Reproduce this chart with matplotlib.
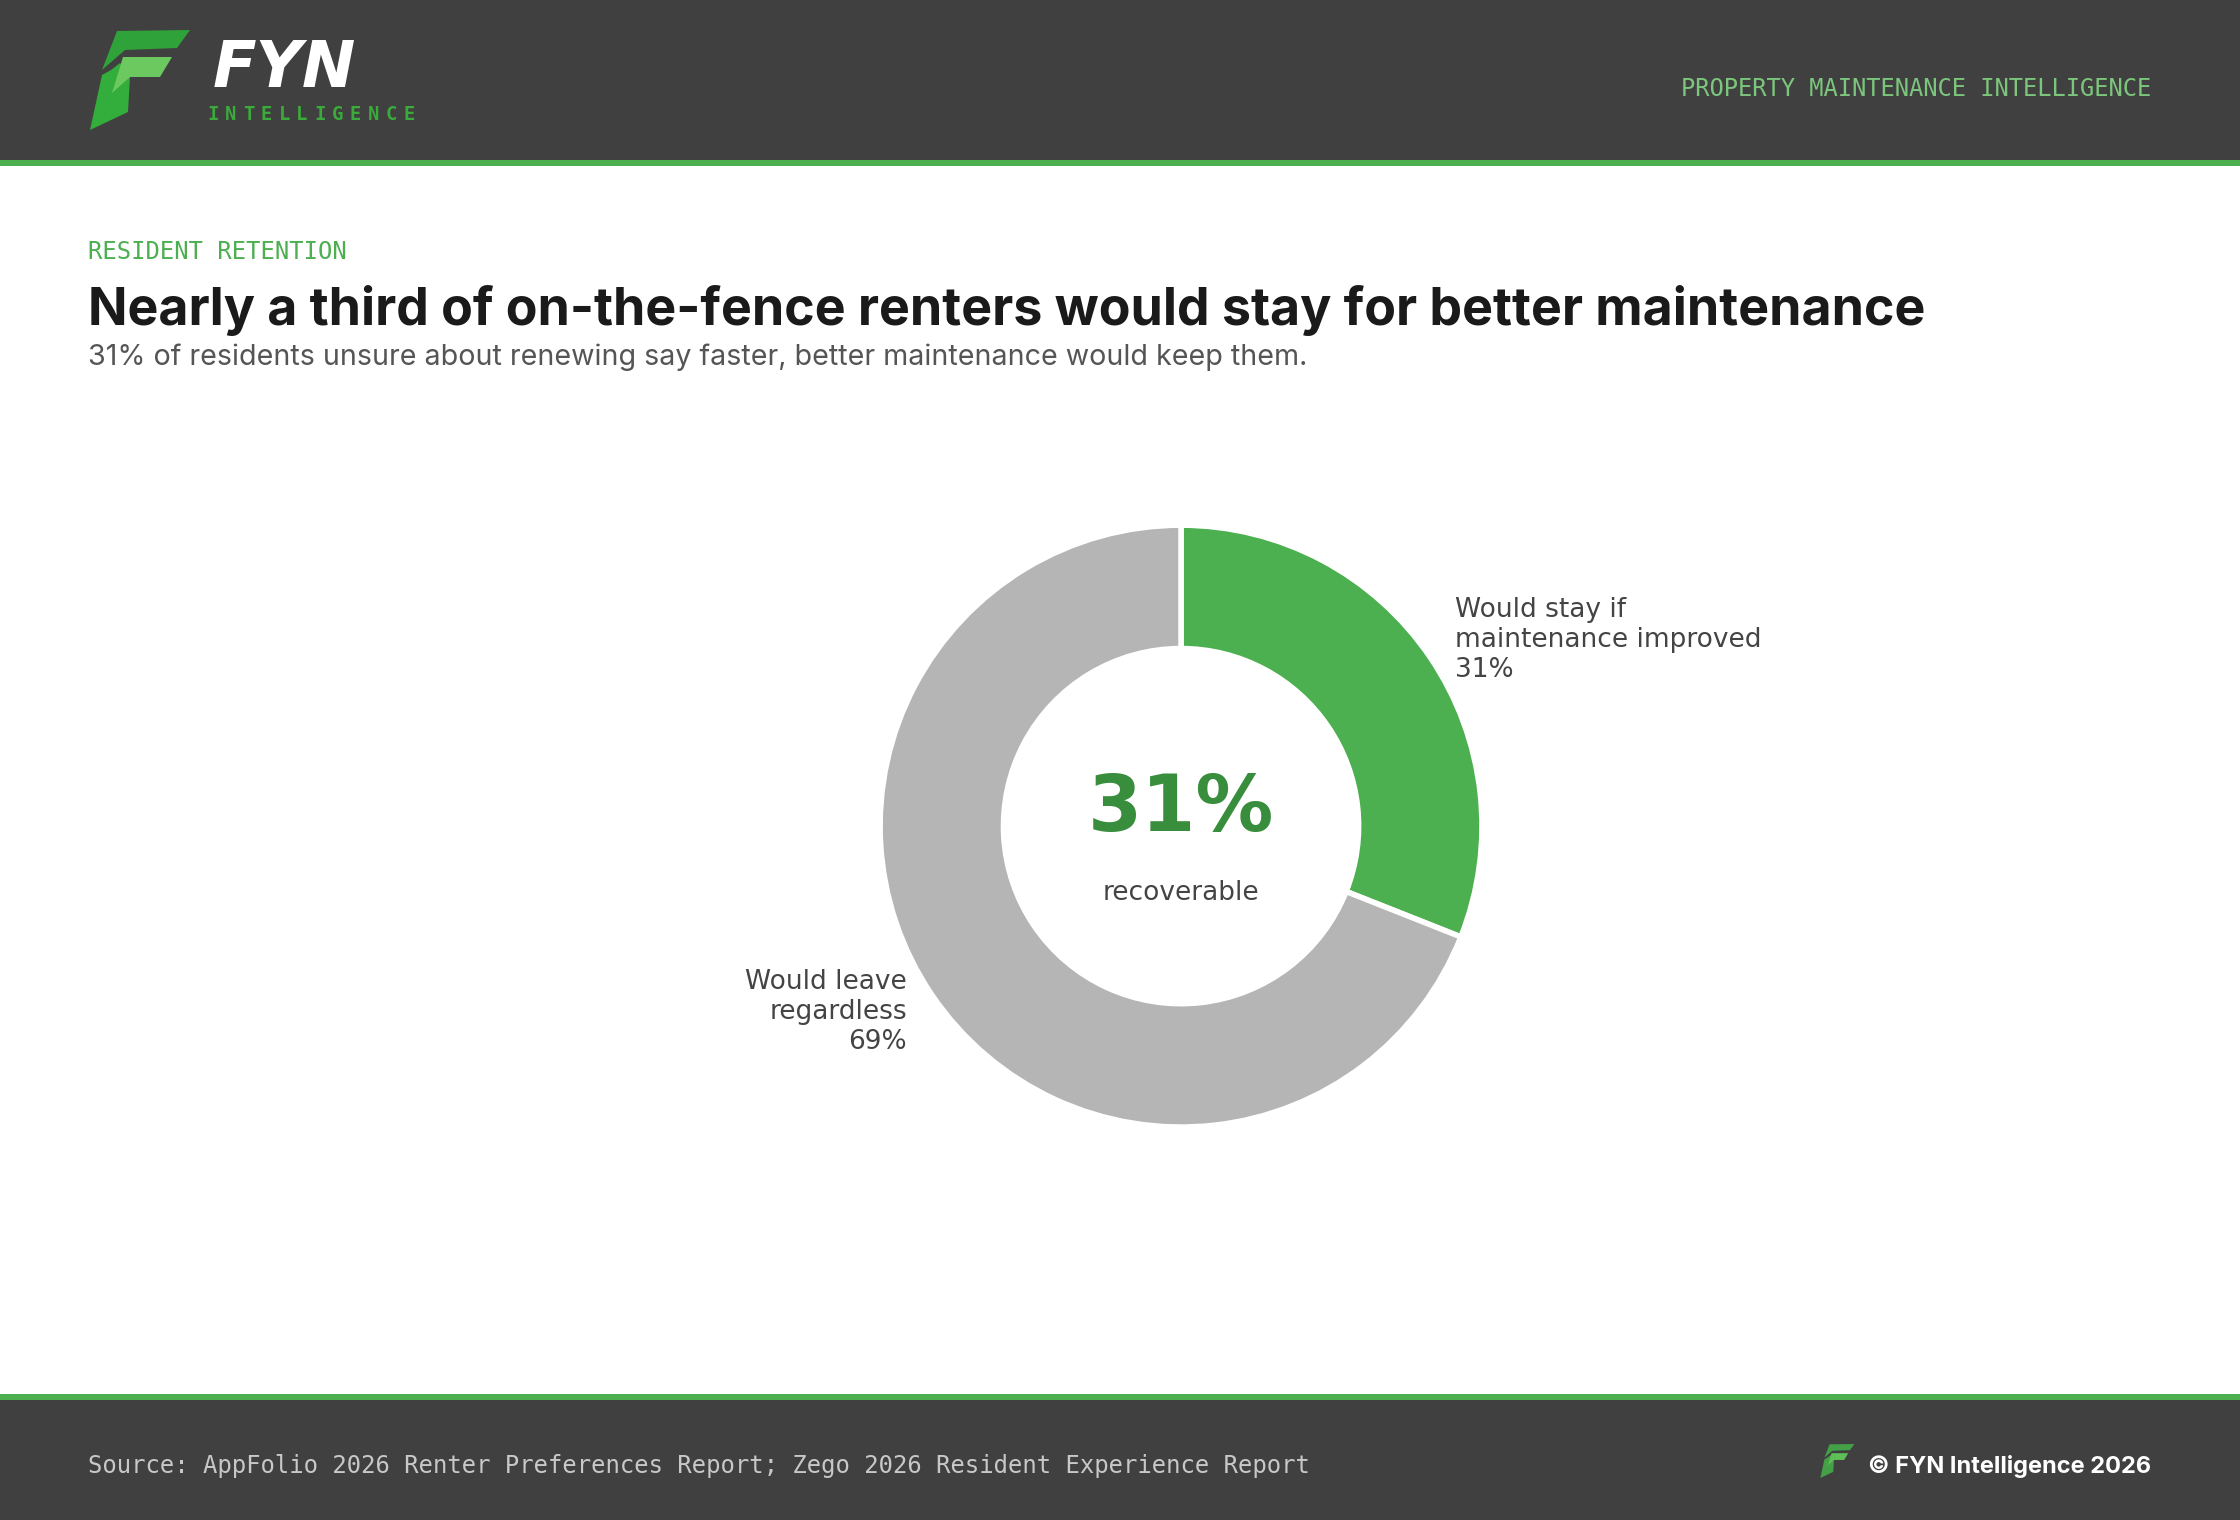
import numpy as np
import matplotlib.pyplot as plt
from matplotlib.patches import Rectangle, Polygon

W, H = 2240, 1520

# texts
brand = 'FYN'
brand_sub = 'INTELLIGENCE'
tagline = 'PROPERTY MAINTENANCE INTELLIGENCE'
kicker = 'RESIDENT RETENTION'
title = 'Nearly a third of on-the-fence renters would stay for better maintenance'
subtitle = '31% of residents unsure about renewing say faster, better maintenance would keep them.'
source = 'Source: AppFolio 2026 Renter Preferences Report; Zego 2026 Resident Experience Report'
copyright_txt = '\u00a9 FYN Intelligence 2026'

# data
segments = ['Would stay if\nmaintenance improved', 'Would leave\nregardless']
shares = [31, 69]
seg_colors = ['#4caf50', '#b5b5b5']
center_value = '31%'
center_label = 'recoverable'

DARK = '#404040'
GREEN = '#4caf50'

fig = plt.figure(figsize=(W / 200, H / 200), dpi=200)

# background layer in pixel coords (y down)
bg = fig.add_axes([0, 0, 1, 1])
bg.set_xlim(0, W)
bg.set_ylim(H, 0)
bg.axis('off')

bg.add_patch(Rectangle((0, 0), W, 160, fc=DARK, ec='none'))
bg.add_patch(Rectangle((0, 160), W, 6, fc=GREEN, ec='none'))
bg.add_patch(Rectangle((0, 1394), W, 6, fc=GREEN, ec='none'))
bg.add_patch(Rectangle((0, 1400), W, 120, fc=DARK, ec='none'))

# logo shapes (local px, box ~101x100)
stem = [(22, 40), (31, 33), (41, 47), (39, 82), (1, 100), (13, 45)]
middle = [(34, 27), (83, 27), (71, 47), (41, 47), (23, 63)]
top = [(28, 1), (101, 0), (88, 18), (36, 20), (13, 40)]


def draw_logo(ax, x0, y0, s, cols):
    for pts, c in zip([stem, middle, top], cols):
        ax.add_patch(Polygon([(x0 + s * x, y0 + s * y) for x, y in pts],
                             closed=True, fc=c, ec='none'))


draw_logo(bg, 89, 30, 1.0, ['#33ad3b', '#6cc95f', '#2fa23a'])
draw_logo(bg, 1820, 1444, 0.34, ['#43a047', '#5fbf57', '#43a047'])

bg.text(213, 87, brand, fontsize=23, fontweight='bold', fontstyle='italic',
        color='white', va='baseline', ha='left', family='DejaVu Sans')
for i, ch in enumerate(brand_sub):
    bg.text(213 + i * 17.8, 120, ch, fontsize=6.8, fontweight='bold',
            family='DejaVu Sans Mono', color='#3aaa3a', ha='center', va='baseline')

bg.text(2151, 96, tagline, fontsize=8.55, family='DejaVu Sans Mono',
        color='#7cc57c', ha='right', va='baseline')

# headings
bg.text(88, 259, kicker, fontsize=8.6, family='DejaVu Sans Mono',
        color=GREEN, ha='left', va='baseline')
bg.text(88, 325, title, fontsize=18.7, fontweight='bold', family='Inter',
        color='#1a1a1a', ha='left', va='baseline')
bg.text(88, 365, subtitle, fontsize=10.3, family='Inter',
        color='#555555', ha='left', va='baseline')

# footer
bg.text(88, 1466, source, fontsize=8.6, family='DejaVu Sans Mono',
        color='#c8c8c8', ha='left', va='center')
bg.text(2151, 1466, copyright_txt, fontsize=8.5, fontweight='bold', family='Inter',
        color='white', ha='right', va='center')

# donut
ax = fig.add_axes([0.3257, 0.1595, 0.4031, 0.594])
labels = [f'{s}\n{v}%' for s, v in zip(segments, shares)]
ax.pie(shares, labels=labels, colors=seg_colors, startangle=90, counterclock=False,
       labeldistance=1.1,
       wedgeprops=dict(width=0.41, edgecolor='white', linewidth=2),
       textprops=dict(color='#444444', fontsize=9.5))
ax.set_xlim(-1.5, 1.5)
ax.set_ylim(-1.5, 1.5)
ax.set_aspect('equal')

ax.text(0, -0.017, center_value, ha='center', va='baseline', fontsize=28,
        fontweight='bold', color='#388e3c')
ax.text(0, -0.246, center_label, ha='center', va='baseline', fontsize=9.5,
        color='#444444')

fig.savefig('out.png', dpi=200)
